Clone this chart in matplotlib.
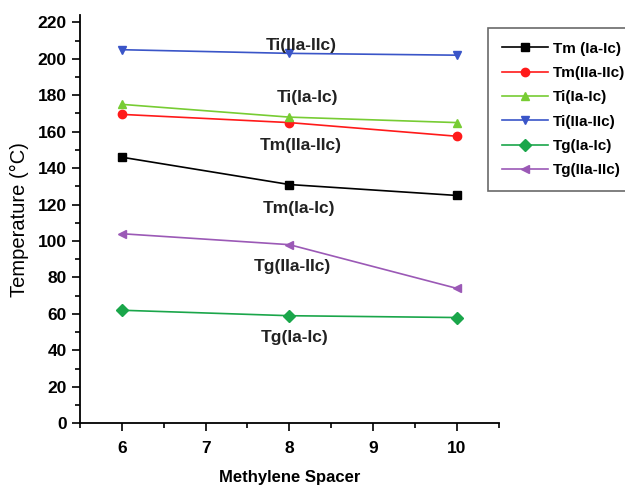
import matplotlib
matplotlib.use('Agg')
import matplotlib.pyplot as plt
from matplotlib.ticker import MultipleLocator

plt.rcParams['font.family'] = ['Liberation Sans', 'DejaVu Sans']

# data
spacer = [6, 8, 10]
tm_i = [146, 131, 125]
tm_ii = [169.5, 165, 157.5]
ti_i = [175, 168, 165]
ti_ii = [205, 203, 202]
tg_i = [62, 59, 58]
tg_ii = [104, 98, 74]

series = [
    ("Tm (Ia-Ic)", tm_i, 'black', 's'),
    ("Tm(IIa-IIc)", tm_ii, '#ff1a1a', 'o'),
    ("Ti(Ia-Ic)", ti_i, '#77cc33', '^'),
    ("Ti(IIa-IIc)", ti_ii, '#3a55c8', 'v'),
    ("Tg(Ia-Ic)", tg_i, '#1aa64a', 'D'),
    ("Tg(IIa-IIc)", tg_ii, '#9b59b6', '<'),
]

# in-plot labels: (text, x, y)
notes = [
    ("Ti(IIa-IIc)", 8.14, 207.5),
    ("Ti(Ia-Ic)", 8.22, 178.5),
    ("Tm(IIa-IIc)", 8.14, 152.5),
    ("Tm(Ia-Ic)", 8.12, 118),
    ("Tg(IIa-IIc)", 8.04, 86),
    ("Tg(Ia-Ic)", 8.06, 47),
]

fig = plt.figure(figsize=(6.25, 4.87), dpi=100)
ax = fig.add_axes([0.128, 0.131, 0.67, 0.838])

for label, vals, col, mk in series:
    ax.plot(spacer, vals, color=col, marker=mk, markersize=6, linewidth=1.2, label=label)

for txt, x, y in notes:
    ax.text(x, y, txt, ha='center', va='center', fontsize=12.5, fontweight='bold', color='#222222')

ax.set_xlim(5.5, 10.5)
ax.set_ylim(0, 224)
ax.xaxis.set_major_locator(MultipleLocator(1))
ax.xaxis.set_minor_locator(MultipleLocator(0.5))
ax.yaxis.set_minor_locator(MultipleLocator(10))
ax.set_yticks(range(0, 221, 20))
ax.spines['top'].set_visible(False)
ax.spines['right'].set_visible(False)
ax.spines['left'].set_linewidth(1.3)
ax.spines['bottom'].set_linewidth(1.3)
ax.tick_params(which='major', length=6, width=1.2, labelsize=12.5)
ax.tick_params(axis='x', which='major', pad=7)
ax.tick_params(which='minor', length=3.5, width=1.2)
for t in ax.get_xticklabels() + ax.get_yticklabels():
    t.set_fontweight('bold')

ax.set_xlabel("Methylene Spacer", fontsize=12, fontweight='bold', labelpad=10)
ax.set_ylabel("Temperature (°C)", fontsize=14.5, labelpad=6)

leg = fig.legend(loc='upper left', bbox_to_anchor=(0.781, 0.943), fontsize=11,
                 handlelength=3.0, frameon=True, fancybox=False, edgecolor='#444444',
                 borderpad=0.9, labelspacing=0.68, handletextpad=0.35, borderaxespad=0)
leg.get_frame().set_linewidth(1.2)
for t in leg.get_texts():
    t.set_fontweight('bold')

plt.savefig("out.png", dpi=100)
